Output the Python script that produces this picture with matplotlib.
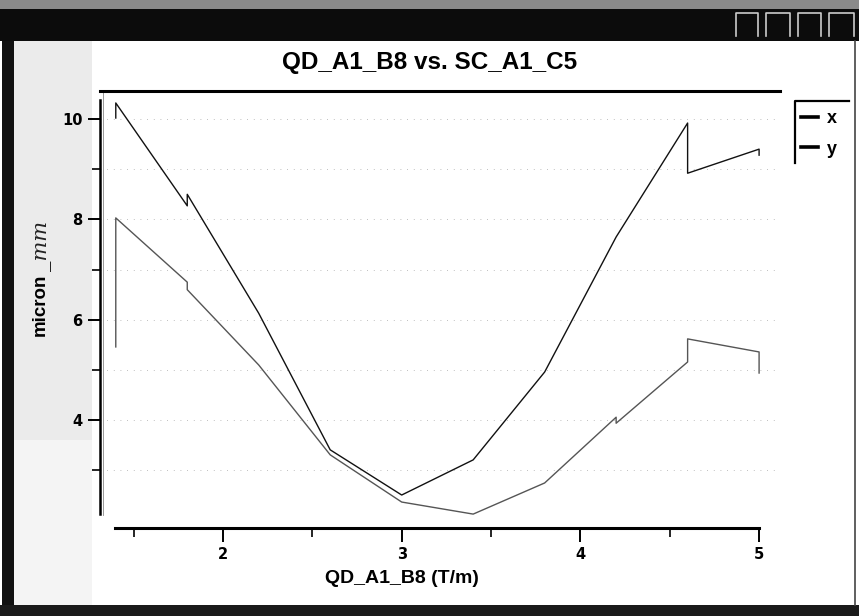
import matplotlib
matplotlib.use("Agg")
import matplotlib.pyplot as plt
from matplotlib.lines import Line2D
from matplotlib.patches import Rectangle

W, H = 859, 616

# gradient settings (T/m) and measured beam size for each plane
grad_x = [1.4, 1.4, 1.8, 1.8, 2.2, 2.6, 3.0, 3.4, 3.8, 4.2, 4.6, 4.6, 5.0, 5.0]
size_x = [10.02, 10.32, 8.27, 8.50, 6.13, 3.41, 2.51, 3.21, 4.96, 7.65, 9.92, 8.92, 9.40, 9.28]

grad_y = [1.4, 1.4, 1.8, 1.8, 2.2, 2.6, 3.0, 3.4, 3.8, 4.2, 4.2, 4.6, 4.6, 5.0, 5.0]
size_y = [5.46, 8.03, 6.75, 6.60, 5.10, 3.31, 2.37, 2.13, 2.75, 4.06, 3.94, 5.16, 5.62, 5.36, 4.94]

x_major = [2, 3, 4, 5]
x_minor = [1.5, 2.5, 3.5, 4.5]
y_major = [4, 6, 8, 10]
y_minor = [3, 5, 7, 9]

title = "QD_A1_B8 vs. SC_A1_C5"
xlabel = "QD_A1_B8 (T/m)"
ylabel = "micron"
series_names = ["x", "y"]


def fx(px):
    return px / W


def fy(py):
    return 1 - py / H


def box(fig, x0, y0, x1, y1, color, z=-5):
    fig.add_artist(Rectangle((fx(x0), fy(y1)), (x1 - x0) / W, (y1 - y0) / H,
                             transform=fig.transFigure, facecolor=color,
                             edgecolor="none", lw=0, zorder=z))


def fig_line(fig, xs, ys, color="black", lw=1.5, z=5):
    fig.add_artist(Line2D([fx(v) for v in xs], [fy(v) for v in ys],
                          transform=fig.transFigure, color=color, lw=lw, zorder=z))


def draw_window(fig):
    # scanned window chrome around the plot
    box(fig, 14, 41, 92, 440, "#ebebeb")
    box(fig, 14, 440, 92, 606, "#f4f4f4")
    box(fig, 0, 0, W, 9, "#8a8a8a")
    box(fig, 0, 9, W, 41, "#0c0c0c")
    box(fig, 2, 41, 14, H, "#111111")
    box(fig, 0, 605, W, H, "#1a1a1a")
    fig_line(fig, [855, 855], [41, 605], color="#444444", lw=1.2)
    for bx0, bx1 in [(736, 758), (766, 790), (798, 821), (829, 854)]:
        fig_line(fig, [bx0, bx0, bx1, bx1], [36, 13, 13, 36], color="#cccccc", lw=1.2, z=6)


fig = plt.figure(figsize=(W / 100, H / 100), dpi=100)
fig.patch.set_facecolor("white")
draw_window(fig)

ax = fig.add_axes([fx(100), fy(528), 680 / W, 437 / H])
ax.set_xlim(1.3117, 5.117)
ax.set_ylim(1.853, 10.558)

ax.plot(grad_x, size_x, color="#111111", lw=1.0, label=series_names[0])
ax.plot(grad_y, size_y, color="#555555", lw=1.0, label=series_names[1])

# axes styling: detached bottom axis, thick top frame, no right side
ax.spines["right"].set_visible(False)
ax.spines["top"].set_linewidth(2.2)
ax.spines["left"].set_linewidth(1.8)
ax.spines["left"].set_bounds(2.13, 10.38)
ax.spines["bottom"].set_linewidth(2.2)
ax.spines["bottom"].set_bounds(1.396, 5.0)

ax.set_xticks(x_major)
ax.set_xticks(x_minor, minor=True)
ax.set_yticks(y_major)
ax.set_yticks(y_minor, minor=True)
ax.tick_params(axis="x", which="major", length=10, width=1.4, pad=4, labelsize=10.5)
ax.tick_params(axis="x", which="minor", length=6.5, width=1.2)
ax.tick_params(axis="y", which="major", length=8.6, width=1.4, pad=4, labelsize=10.5)
ax.tick_params(axis="y", which="minor", length=5.8, width=1.2)
for lab in ax.get_xticklabels() + ax.get_yticklabels():
    lab.set_fontweight("bold")

ax.grid(True, axis="y", which="both", color="#aaaaaa", linestyle=(0, (1, 7)), lw=0.6)

# thin canvas border just inside the y axis
ax.add_line(Line2D([0.0045, 0.0045], [0.03, 1.0], transform=ax.transAxes,
                   color="#888888", lw=0.6))

ax.set_xlabel(xlabel, fontsize=14, fontweight="bold", family="Liberation Sans")
ax.xaxis.set_label_coords((402 - 100) / 680, (528 - 570) / 437)
ax.xaxis.label.set_va("top")
ax.set_ylabel(ylabel, fontsize=13.5, fontweight="bold", family="Liberation Sans")
ax.yaxis.set_label_coords((49 - 100) / 680, (528 - 305) / 437)
fig.text(fx(43), fy(246), "_mm", rotation=90, ha="center", va="center",
         fontsize=15, style="italic", family="DejaVu Serif", color="#222222")

fig.text(fx(430), fy(63), title, ha="center", va="center", fontsize=17.5,
         fontweight="bold", family="Liberation Sans")

handles = [Line2D([], [], color="black", lw=2.6), Line2D([], [], color="black", lw=2.6)]
leg = ax.legend(handles, series_names, loc="upper left",
                bbox_to_anchor=(fx(801), fy(110)), bbox_transform=fig.transFigure,
                frameon=False, borderpad=0, borderaxespad=0, handlelength=0.95,
                handletextpad=0.5, labelspacing=0.75,
                prop={"weight": "bold", "size": 13, "family": "Liberation Sans"})
fig_line(fig, [795, 795, 849], [163, 101, 101], color="black", lw=1.6)

fig.savefig("out.png", dpi=100)
